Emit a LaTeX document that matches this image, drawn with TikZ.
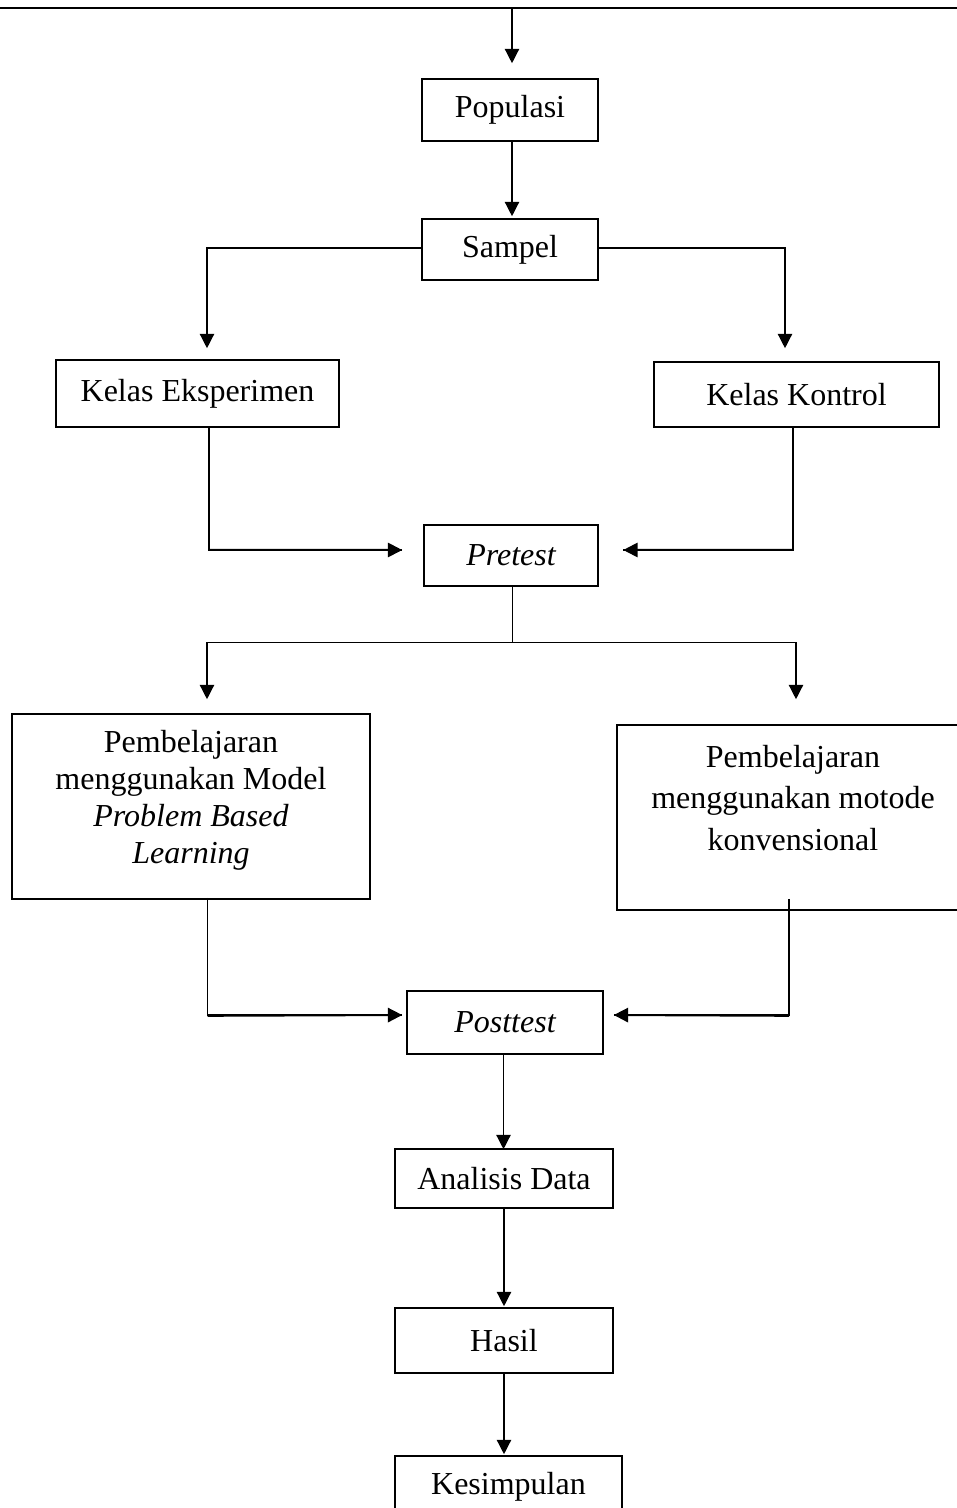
\documentclass[tikz,border=0pt]{standalone}
\usepackage{fontspec}
\setmainfont{Liberation Serif}
\usetikzlibrary{arrows.meta,calc}
\def\u{0.375pt}
\begin{document}
\begin{tikzpicture}[x=0.375pt,y=-0.375pt,
  box/.style={draw, line width=0.6pt, inner sep=0pt, font=\fontsize{12}{14}\selectfont, align=center},
  txt/.style={inner sep=0pt, align=center},
  ln/.style={line width=0.5pt},
  arr/.style={line width=0.5pt, -{Triangle[length=5.4pt,width=5.4pt]}},
  harr/.style={line width=0.75pt, -{Triangle[length=5.4pt,width=5.4pt]}}]
\useasboundingbox (0,0) rectangle (957,1508);
% top rule
\coordinate (tl) at (0,8);
\coordinate (tr) at (957,8);
\draw[line width=0.8pt] (tl) -- (tr);
\coordinate (topc) at (512,9);
% boxes
\node[box, minimum width=176*\u, minimum height=62*\u] (pop) at (510,110) {Populasi};
\node[box, minimum width=176*\u, minimum height=61*\u] (samp) at (510,249.5) {Sampel};
\node[box, minimum width=283*\u, minimum height=67*\u] (ke) at (197.5,393.5) {Kelas Eksperimen};
\node[box, minimum width=285*\u, minimum height=65*\u] (kk) at (796.5,394.5) {Kelas Kontrol};
\node[box, minimum width=174*\u, minimum height=61*\u] (pre) at (511,555.5) {\itshape Pretest};
\node[box, minimum width=358*\u, minimum height=185*\u] (pbl) at (191,806.5) {};
\node[txt, font=\fontsize{12}{13.9}\selectfont] (pbltxt) at (191,800) {Pembelajaran\\menggunakan Model\\\itshape Problem Based\\\itshape Learning};
\node[box, minimum width=352*\u, minimum height=185*\u] (konv) at (793,817.5) {};
\node[txt, font=\fontsize{12}{15.4}\selectfont] (konvtxt) at (793,798) {Pembelajaran\\menggunakan motode\\konvensional};
\node[box, minimum width=196*\u, minimum height=63*\u] (post) at (505,1022.5) {\itshape Posttest};
\node[box, minimum width=218*\u, minimum height=59*\u] (ana) at (504,1178.5) {Analisis Data};
\node[box, minimum width=218*\u, minimum height=65*\u] (has) at (504,1340.5) {Hasil};
\node[box, minimum width=227*\u, minimum height=62*\u] (kes) at (508.5,1487) {Kesimpulan};
% connectors
\draw[arr] (topc) -- ($(topc |- pop.north)+(0,-15)$);
\draw[arr] ($(pop.south)+(2,0)$) -- ($(samp.north)+(2,-2)$);
\draw[arr] ($(samp.west)+(0,-1.5)$) -| ($(ke.north)+(9.5,-11)$);
\draw[arr] ($(samp.east)+(0,-1.5)$) -| ($(kk.north)+(-11.5,-13)$);
\draw[ln] ($(ke.south)+(11.5,0)$) |- ($(pre.west)+(-21,-5.5)$);
\draw[harr] ($(ke.south)+(11.5,122)$) -- ($(pre.west)+(-21,-5.5)$);
\draw[ln] ($(kk.south)+(-3.5,0)$) |- ($(pre.east)+(24.5,-5.5)$);
\draw[harr] ($(kk.south)+(-3.5,122)$) -- ($(pre.east)+(24.5,-5.5)$);
\draw[ln] ($(pre.south)+(1.7,0)$) -- ($(pre.south)+(1.7,56)$) coordinate (br);
\draw[arr] (br) -| ($(pbl.north)+(16,-14)$);
\draw[arr] (br) -| ($(konv.north)+(3,-25)$);
\draw[ln] ($(pbl.south)+(16.5,-2)$) |- ($(post.west)+(-4,-7.5)$);
\draw[harr] ($(pbl.south)+(16.5,116)$) -- ($(post.west)+(-4,-7.5)$);
\draw[ln] ($(konv.south)+(-4,-12)$) |- ($(post.east)+(10,-7.5)$);
\draw[harr] ($(konv.south)+(-4,105)$) -- ($(post.east)+(10,-7.5)$);
\draw[arr] ($(post.south)+(-1.5,0)$) -- ($(ana.north)+(-0.5,1)$);
\draw[arr] (ana.south) -- ($(has.north)+(0,-1)$);
\draw[arr] (has.south) -- ($(has.south |- kes.north)+(0,-1)$);
\end{tikzpicture}
\end{document}
